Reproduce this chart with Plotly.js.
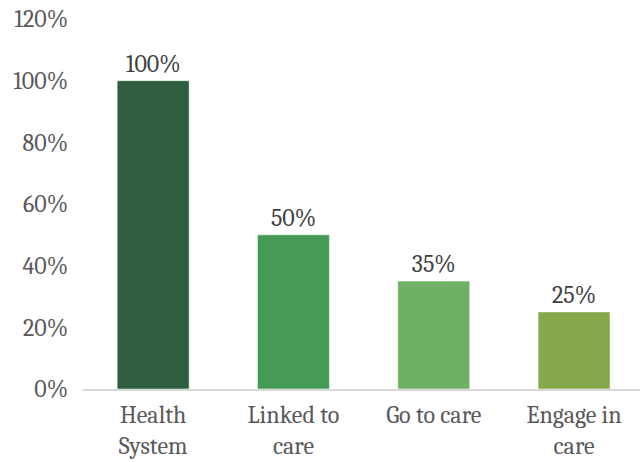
<!DOCTYPE html>
<html><head><meta charset="utf-8">
<script src="https://cdn.plot.ly/plotly-3.0.1.min.js"></script>
<style>html,body{margin:0;padding:0;background:#fff;}</style>
</head><body>
<div id="chart" style="width:640px;height:462px;"></div>
<script>
var categories = ["Health<br>System", "Linked to<br>care", "Go to care", "Engage in<br>care"];
var values = [1.00, 0.50, 0.35, 0.25];
var labels = ["100%", "50%", "35%", "25%"];
var colors = ["#2e5e3f", "#459b56", "#70b064", "#85a84b"];
var yTicks = [0, 0.2, 0.4, 0.6, 0.8, 1.0, 1.2];
var yTickText = ["0%", "20%", "40%", "60%", "80%", "100%", "120%"];

var font = "Cambria, 'DejaVu Serif', serif";
Plotly.newPlot("chart", [{
  type: "bar",
  x: [0, 1, 2, 3],
  y: values,
  width: 0.513,
  marker: {color: colors, line: {color: "rgba(255,255,255,0.5)", width: 1}},
  text: labels,
  textposition: "outside",
  textfont: {family: font, size: 24, color: "#404040"},
  cliponaxis: false,
  hoverinfo: "none"
}], {
  width: 640, height: 462,
  margin: {l: 83, r: 0, t: 19, b: 73},
  paper_bgcolor: "#fff", plot_bgcolor: "#fff",
  showlegend: false,
  xaxis: {
    range: [-0.5, 3.47],
    tickvals: [0, 1, 2, 3],
    ticktext: categories,
    tickfont: {family: font, size: 24, color: "#595959"},
    showline: true, linecolor: "#d9d9d9", linewidth: 2,
    showgrid: false, zeroline: false, ticks: "", fixedrange: true,
    ticklabelstandoff: 3
  },
  yaxis: {
    range: [0, 1.2],
    tickvals: yTicks,
    ticktext: yTickText,
    tickfont: {family: font, size: 24, color: "#595959"},
    showgrid: false, zeroline: false, showline: false, ticks: "",
    ticklabelstandoff: 14
  }
}, {staticPlot: true});
</script>
</body></html>
